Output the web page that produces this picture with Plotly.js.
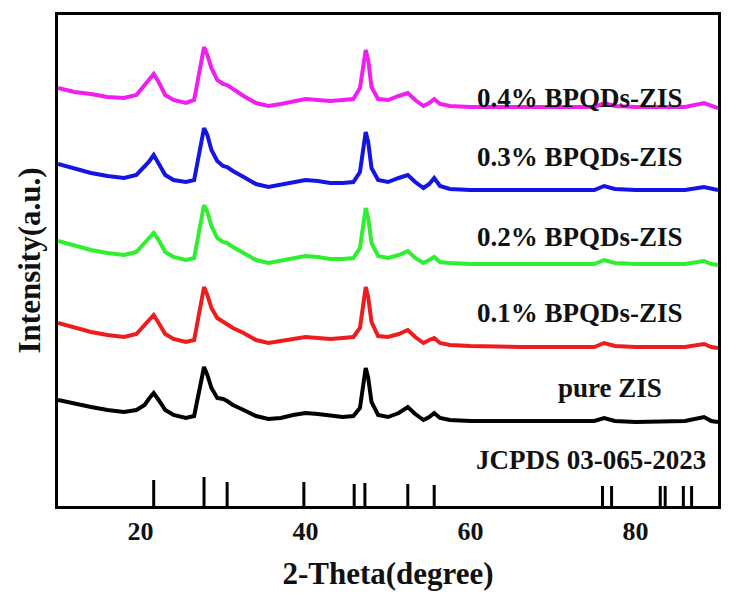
<!DOCTYPE html>
<html>
<head>
<meta charset="utf-8">
<script src="https://cdn.plot.ly/plotly-3.0.1.min.js"></script>
<style>html,body{margin:0;padding:0;background:#fff;}#chart{width:730px;height:609px;}</style>
</head>
<body>
<div id="chart"></div>
<script>
// 2-Theta sample points (degree)
const twoTheta = [10,12,14,16,18,19.5,20.5,21.0,21.6,22.2,23,24,25.5,26.5,27.0,27.4,27.7,28.1,28.6,29.3,30.0,30.5,31.2,32.5,34,35.5,37,38.5,40,41.5,43,44.5,45.8,46.6,47.0,47.3,47.6,48.0,48.8,50,51.3,52.4,53.3,54.3,55.0,55.6,56.3,57.5,60,63,66,70,73,75,76.2,77.5,80,83,86,88.3,89.2,90];

// Intensities (a.u., stacked with offsets as in the figure)
const pureZIS = [106,102,99,96,94,96,101,107,113,106,96,91,88,90,111,126,139,131,118,108,107,105,101,96,90,87,88,91,93,92,90,89,90,98,121,138,128,104,91,89,93,99,92,86,89,93,88,86,85,85,84,85,84,85,88,85,84,84,85,89,85,84];
const bp01 = [183,178,174,171,169,172,181,186,191,183,172,167,164,166,188,207,219,211,198,188,184,182,178,173,166,163,165,168,169,168,167,168,169,178,201,219,209,184,170,169,172,176,169,163,166,168,163,161,160,159,159,159,159,159,163,160,159,159,159,162,159,158];
const bp02 = [265,260,256,253,251,254,263,268,273,266,254,249,246,248,271,289,301,294,280,268,264,263,259,253,246,243,245,248,250,249,247,247,248,258,281,298,288,263,250,248,251,255,248,243,246,249,244,243,242,242,242,243,242,242,246,243,242,242,242,245,242,241];
const bp03 = [342,337,333,330,328,331,339,344,351,342,331,326,324,326,348,366,378,371,356,345,340,339,335,329,322,319,321,324,326,325,323,323,324,334,356,374,364,338,326,324,328,331,324,318,322,328,320,317,316,316,316,316,316,316,320,317,316,316,316,319,317,316];
const bp04 = [418,414,412,409,408,411,421,426,432,424,411,406,403,406,430,447,459,451,438,426,422,421,417,410,403,400,402,405,407,406,405,406,407,418,440,456,446,419,407,406,410,413,406,400,403,407,402,400,399,399,399,399,399,399,403,400,399,399,399,403,400,398];

// JCPDS 03-065-2023 reference lines
const refPos = [21.6,27.7,30.5,39.8,45.9,47.2,52.4,55.6,76.0,77.1,83.0,83.6,85.8,86.8];
const refInt = [26,29,24,24,22,23,22,21,20,20,20,20,20,20];

const seriesNames = ['pure ZIS','0.1% BPQDs-ZIS','0.2% BPQDs-ZIS','0.3% BPQDs-ZIS','0.4% BPQDs-ZIS'];
const seriesData = [pureZIS,bp01,bp02,bp03,bp04];
const seriesColors = ['#000000','#ee1c1c','#2ef02e','#1414e6','#f01ef0'];
const labelX = [76.9,73.3,73.3,73.3,73.3];
const labelY = [118,193,269,349,408];

const FONT = 'Liberation Serif, Times New Roman, serif';

const traces = seriesData.map((d,i)=>({
  type:'scatter', mode:'lines', x:twoTheta, y:d, name:seriesNames[i],
  line:{color:seriesColors[i], width:4, shape:'linear'},
  hoverinfo:'skip'
}));

// stick pattern
const sx=[], sy=[];
refPos.forEach((p,i)=>{ sx.push(p,p,null); sy.push(0,refInt[i],null); });
traces.push({type:'scatter', mode:'lines', x:sx, y:sy, line:{color:'#000', width:3}, hoverinfo:'skip', name:'JCPDS'});

const LBL = {family:FONT, size:27, color:'#111', weight:'bold'};
const annotations = seriesNames.map((n,i)=>({
  x:labelX[i], y:labelY[i], xref:'x', yref:'y', text:n, showarrow:false,
  xanchor:'center', yanchor:'middle', font:LBL
}));
annotations.push({x:74.6, y:46, xref:'x', yref:'y', text:'JCPDS 03-065-2023', showarrow:false,
  xanchor:'center', yanchor:'middle', font:LBL});

const layout = {
  width:730, height:609,
  margin:{l:58, r:12, t:15, b:103},
  paper_bgcolor:'#fff', plot_bgcolor:'#fff',
  showlegend:false,
  xaxis:{
    range:[10,90], tickvals:[20,40,60,80], ticks:'', showgrid:false, zeroline:false,
    showline:true, mirror:true, linecolor:'#000', linewidth:3,
    tickfont:{family:FONT, size:26, color:'#111', weight:'bold'},
    title:{text:'2-Theta(degree)', standoff:18, font:{family:FONT, size:31, color:'#111', weight:'bold'}}
  },
  yaxis:{
    range:[0,491], showticklabels:false, ticks:'', showgrid:false, zeroline:false,
    showline:true, mirror:true, linecolor:'#000', linewidth:3,
    title:{text:'Intensity(a.u.)', standoff:6, font:{family:FONT, size:31, color:'#111', weight:'bold'}}
  },
  annotations:annotations
};

Plotly.newPlot('chart', traces, layout, {displayModeBar:false, staticPlot:true});
</script>
</body>
</html>
